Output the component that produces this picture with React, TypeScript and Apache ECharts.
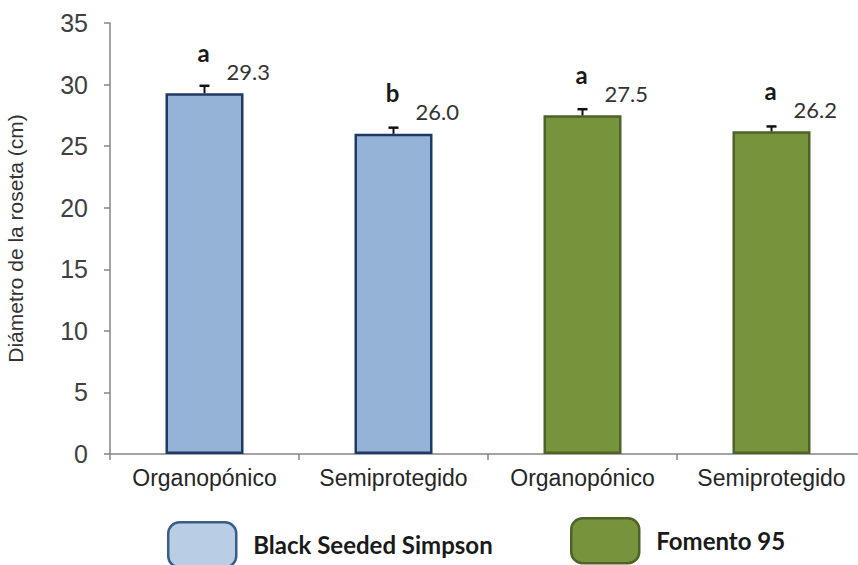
import React, { useEffect, useRef } from 'react';
import * as echarts from 'echarts';

const categories = ['Organopónico', 'Semiprotegido', 'Organopónico', 'Semiprotegido'];
const cultivars = ['Black Seeded Simpson', 'Fomento 95'];
const cultivarOfBar = [0, 0, 1, 1];
const means = [29.3, 26.0, 27.5, 26.2];
const errors = [0.6, 0.5, 0.5, 0.4];
const letters = ['a', 'b', 'a', 'a'];
const yMin = 0;
const yMax = 35;
const yInterval = 5;
const yAxisTitle = 'Diámetro de la roseta (cm)';

const barFill = ['#95B3D7', '#77933C'];
const barBorder = ['#1F3864', '#4F6228'];
const legendFill = ['#B9CDE5', '#77933C'];
const legendBorder = ['#385D8A', '#4F6228'];

export default function App() {
  const ref = useRef<HTMLDivElement>(null);
  useEffect(() => {
    if (!ref.current) return;
    const chart = echarts.init(ref.current, null, { renderer: 'svg' });
    const barSeries = cultivars.map((name, c) => ({
      name,
      type: 'bar',
      barWidth: 78,
      barGap: '-100%',
      data: means.map((v, i) => (cultivarOfBar[i] === c ? v : '-')),
      itemStyle: { color: barFill[c], borderColor: barBorder[c], borderWidth: 2.5 },
      z: 2,
    }));
    const legendLefts = [162, 565];
    const legendTops = [516, 512];
    const option: any = {
      animation: false,
      backgroundColor: '#ffffff',
      grid: { left: 110, top: 23, width: 756, height: 431, containLabel: false, outerBoundsMode: 'none' },
      xAxis: {
        type: 'category',
        data: categories,
        axisLine: { lineStyle: { color: '#868686', width: 1.5 } },
        axisTick: { show: true, length: 6, lineStyle: { color: '#868686', width: 1.5 } },
        axisLabel: {
          interval: 0,
          margin: 12,
          color: '#262626',
          fontSize: 23,
          fontFamily: '"Liberation Sans Narrow", "Liberation Sans", Arial, sans-serif',
        },
      },
      yAxis: {
        type: 'value',
        min: yMin,
        max: yMax,
        interval: yInterval,
        name: yAxisTitle,
        nameLocation: 'middle',
        nameGap: 84,
        nameTextStyle: { fontSize: 21, color: '#333333', fontFamily: '"Liberation Sans", Arial, sans-serif' },
        axisLine: { show: true, lineStyle: { color: '#868686', width: 1.5 } },
        axisTick: { show: true, length: 6, lineStyle: { color: '#868686', width: 1.5 } },
        axisLabel: { margin: 22, fontSize: 25, color: '#404040', fontFamily: '"Liberation Sans", Arial, sans-serif' },
        splitLine: { show: false },
      },
      legend: cultivars.map((name, c) => ({
        data: [{ name, itemStyle: { color: legendFill[c], borderColor: legendBorder[c], borderWidth: 2.5 } }],
        left: legendLefts[c],
        top: legendTops[c],
        icon: 'roundRect',
        itemWidth: 68,
        itemHeight: 45,
        selectedMode: false,
        textStyle: {
          fontFamily: 'Lato, "Open Sans", sans-serif',
          fontSize: 24,
          fontWeight: 'bold',
          color: '#1a1a1a',
          padding: [0, 0, 0, 12],
        },
      })),
      series: [
        ...barSeries,
        {
          type: 'custom',
          name: 'annotations',
          data: means.map((v, i) => [i, v, errors[i]]),
          encode: { x: 0, y: 1 },
          z: 5,
          renderItem: (params: any, api: any) => {
            const i = params.dataIndex;
            const top = api.coord([api.value(0), api.value(1)]);
            const errTop = api.coord([api.value(0), api.value(1) + api.value(2)]);
            const x = top[0];
            return {
              type: 'group',
              children: [
                { type: 'line', shape: { x1: x, y1: top[1], x2: x, y2: errTop[1] }, style: { stroke: '#111', lineWidth: 2 } },
                { type: 'line', shape: { x1: x - 5, y1: errTop[1], x2: x + 5, y2: errTop[1] }, style: { stroke: '#111', lineWidth: 2.5 } },
                {
                  type: 'text',
                  x: x - 1,
                  y: top[1] - 41,
                  style: {
                    text: letters[i],
                    fill: '#1a1a1a',
                    fontSize: 24,
                    fontWeight: 'bold',
                    fontFamily: 'Lato, "Open Sans", sans-serif',
                    align: 'center',
                    verticalAlign: 'middle',
                  },
                },
                {
                  type: 'text',
                  x: x + 22,
                  y: top[1] - 22,
                  style: {
                    text: means[i].toFixed(1),
                    fill: '#333333',
                    fontSize: 22,
                    fontFamily: 'Lato, "Open Sans", sans-serif',
                    align: 'left',
                    verticalAlign: 'middle',
                  },
                },
              ],
            };
          },
        },
      ],
    };
    chart.setOption(option);
    return () => chart.dispose();
  }, []);
  return <div ref={ref} style={{ position: 'absolute', left: 0, top: 0, width: 858, height: 565 }} />;
}
